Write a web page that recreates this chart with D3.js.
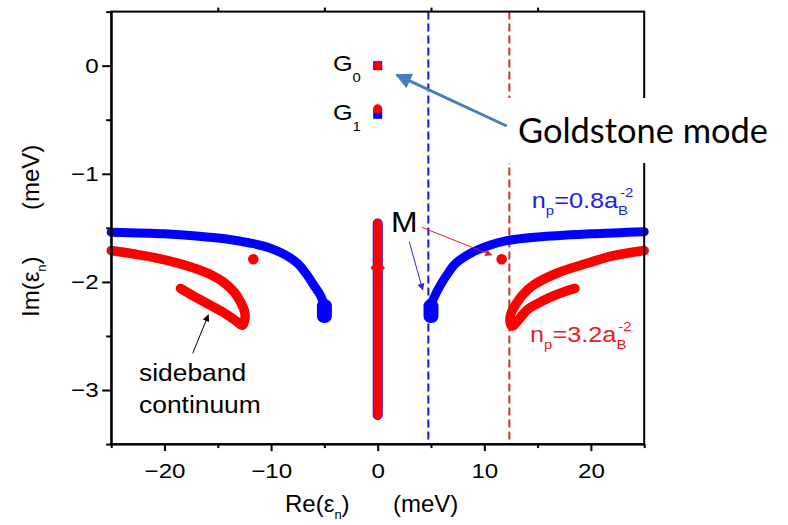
<!DOCTYPE html>
<meta charset="utf-8">
<style>
body { margin: 0; background: #fff; }
svg text { font-family: "Liberation Sans", Arial, sans-serif; fill: #000; }
.axis path, .axis line { stroke: #000; stroke-width: 2px; }
.axis text { font-size: 21px; }
.band { fill: none; stroke-linecap: round; stroke-linejoin: round; }
</style>
<svg width="788" height="525"></svg>
<script src="https://d3js.org/d3.v7.min.js"></script>
<script>

// eigenvalues [Re, Im] in meV
var blueLeft  = [[-25,-1.54],[-20,-1.555],[-17,-1.575],[-14,-1.605],[-12,-1.64],[-10,-1.69],[-8.5,-1.76],[-7.5,-1.83],[-6.6,-1.94],[-6,-2.03],[-5.4,-2.12],[-5.05,-2.2]];
var blueRight = [[5.05,-2.2],[5.4,-2.12],[6,-2.01],[6.6,-1.92],[7.3,-1.83],[8.8,-1.73],[10.5,-1.66],[12,-1.62],[15,-1.585],[20,-1.555],[25,-1.535]];
var blueTails = [[-5.0,-2.27],[5.0,-2.27]];
var redLeft  = [[-25,-1.71],[-23,-1.74],[-20.7,-1.78],[-17.6,-1.86],[-15.5,-1.94],[-14.5,-2.0],[-13.5,-2.09],[-12.9,-2.18],[-12.5,-2.27],[-12.45,-2.34],[-12.7,-2.4],[-13.3,-2.36],[-14.5,-2.28],[-16,-2.2],[-17.3,-2.13],[-18.5,-2.06]];
var redRight = [[25,-1.71],[22,-1.76],[19.9,-1.82],[16.8,-1.92],[14.6,-2.03],[13.6,-2.12],[13.0,-2.2],[12.55,-2.28],[12.4,-2.35],[12.6,-2.41],[13.3,-2.34],[14,-2.26],[15,-2.2],[16.2,-2.14],[17.5,-2.09],[18.5,-2.06]];
var centreBand = [[0,-1.46],[0,-3.23]];
var centreKnot = [[0,-1.87]];
var goldBlue = [[0,0],[0,-0.45]];
var goldRed  = [[0,0],[0,-0.40]];
var mPoints  = [[-11.67,-1.79],[11.63,-1.79]];
var thresholds = [{re: 4.75, c: "#1515f0"}, {re: 12.35, c: "#cc3030"}];
var xMajor = [-20,-10,0,10,20], xMinor = [-25,-15,-5,5,15,25], xTop = [-15,-5,5,15];
var yMajor = [0,-1,-2,-3], yMinor = [0.5,-0.5,-1.5,-2.5,-3.5];

var svg = d3.select("svg");
svg.append("rect").attr("width", 788).attr("height", 525).attr("fill", "#fff");

var x = d3.scaleLinear().domain([-25, 25]).range([111.2, 644.2]);
var y = d3.scaleLinear().domain([0.5, -3.5]).range([11.6, 444.1]);
var S = 1.15; // the text in the figure is a bit wide

var defs = svg.append("defs");
function marker(id, color, w, h) {
  defs.append("marker").attr("id", id)
      .attr("viewBox", "0 0 10 10").attr("refX", 9).attr("refY", 5)
      .attr("markerUnits", "userSpaceOnUse")
      .attr("markerWidth", w).attr("markerHeight", h)
      .attr("orient", "auto")
    .append("path").attr("d", "M0,0L10,5L0,10z").attr("fill", color);
}
marker("hGold", "#4a7ebb", 18, 16);
marker("hBlue", "#2b2bd0", 8, 7);
marker("hRed", "#dd2020", 9, 7);
marker("hBlack", "#000", 8, 7);

// dashed threshold lines
svg.append("g").selectAll("line").data(thresholds).enter().append("line")
    .attr("x1", function(d) { return x(d.re); }).attr("x2", function(d) { return x(d.re); })
    .attr("y1", y(0.5)).attr("y2", y(-3.5))
    .attr("stroke", function(d) { return d.c; })
    .attr("stroke-width", 2).attr("stroke-dasharray", "8,4");

var line = d3.line().x(function(d) { return x(d[0]); }).y(function(d) { return y(d[1]); })
    .curve(d3.curveCatmullRom.alpha(0.5));

// blue: n_p = 0.8
var blue = svg.append("g");
blue.selectAll("path").data([blueLeft, blueRight]).enter().append("path")
    .attr("class", "band").attr("d", line).attr("stroke", "#0000ff").attr("stroke-width", 9);
blue.selectAll("rect.tail").data(blueTails).enter().append("rect").attr("class", "tail")
    .attr("x", function(d) { return x(d[0]) - 7.5; }).attr("y", function(d) { return y(d[1]) - 12; })
    .attr("width", 15).attr("height", 24).attr("rx", 7).attr("fill", "#0000ff");
blue.append("path").datum(centreBand).attr("class", "band").attr("d", line)
    .attr("stroke", "#0000ff").attr("stroke-width", 10);
blue.selectAll("rect.g").data(goldBlue).enter().append("rect").attr("class", "g")
    .attr("x", function(d) { return x(d[0]) - 4.5; }).attr("y", function(d) { return y(d[1]) - 4.5; })
    .attr("width", 9).attr("height", 9).attr("fill", "#0000ff");

// red: n_p = 3.2
var red = svg.append("g");
red.selectAll("path").data([redLeft, redRight]).enter().append("path")
    .attr("class", "band").attr("d", line).attr("stroke", "#ff0000").attr("stroke-width", 9.5);
red.append("path").datum(centreBand).attr("class", "band").attr("d", line)
    .attr("stroke", "#ff0000").attr("stroke-width", 9);
red.selectAll("ellipse").data(centreKnot).enter().append("ellipse")
    .attr("cx", function(d) { return x(d[0]); }).attr("cy", function(d) { return y(d[1]); })
    .attr("rx", 7).attr("ry", 3.5).attr("fill", "#ff0000");
red.selectAll("circle.m").data(mPoints).enter().append("circle").attr("class", "m")
    .attr("cx", function(d) { return x(d[0]); }).attr("cy", function(d) { return y(d[1]); })
    .attr("r", 5.3).attr("fill", "#ff0000");
red.selectAll("circle.g").data(goldRed).enter().append("circle").attr("class", "g")
    .attr("cx", function(d) { return x(d[0]); }).attr("cy", function(d) { return y(d[1]); })
    .attr("r", 4.6).attr("fill", "#ff0000");

// axes
var gx = svg.append("g").attr("class", "axis").attr("transform", "translate(0," + y(-3.5) + ")")
    .call(d3.axisBottom(x).tickValues(xMajor).tickSize(7).tickSizeOuter(0).tickPadding(12).tickFormat(d3.format("d")));
gx.selectAll("text").attr("transform", "scale(" + S + ",1)");
svg.append("g").attr("class", "axis").attr("transform", "translate(0," + y(-3.5) + ")")
    .call(d3.axisBottom(x).tickValues(xMinor).tickSize(4).tickFormat(""))
    .select(".domain").remove();
svg.append("g").attr("class", "axis").attr("transform", "translate(0," + y(0.5) + ")")
    .call(d3.axisTop(x).tickValues(xTop).tickSize(4).tickFormat(""))
    .select(".domain").remove();
var gy = svg.append("g").attr("class", "axis").attr("transform", "translate(" + x(-25) + ",0)")
    .call(d3.axisLeft(y).tickValues(yMajor).tickSize(9).tickSizeOuter(0).tickPadding(2).tickFormat(d3.format("d")));
gy.selectAll("text").attr("transform", "scale(" + S + ",1)");
svg.append("g").attr("class", "axis").attr("transform", "translate(" + x(-25) + ",0)")
    .call(d3.axisLeft(y).tickValues(yMinor).tickSize(5).tickFormat(""))
    .select(".domain").remove();
svg.append("rect").attr("x", x(-25)).attr("y", y(0.5))
    .attr("width", x(25) - x(-25)).attr("height", y(-3.5) - y(0.5))
    .attr("fill", "none").attr("stroke", "#000").attr("stroke-width", 2);

// axis titles
var xt = svg.append("text").attr("x", 285).attr("y", 512).style("font-size", "24px");
xt.append("tspan").text("Re(\u03b5");
xt.append("tspan").text("n").style("font-size", "13px").attr("dy", 7);
xt.append("tspan").text(")").attr("dy", -7);
svg.append("text").attr("x", 393).attr("y", 512).style("font-size", "24px").text("(meV)");

var yt = svg.append("text").attr("transform", "translate(39,317) rotate(-90)").style("font-size", "24px");
yt.append("tspan").text("Im(\u03b5");
yt.append("tspan").text("n").style("font-size", "13px").attr("dy", 7);
yt.append("tspan").text(")").attr("dy", -7);
svg.append("text").attr("transform", "translate(39,210) rotate(-90)").style("font-size", "24px").text("(meV)");

// annotations, placed in data units
function label(re, im, size, sx) {
  return svg.append("text")
      .attr("transform", "translate(" + x(re) + "," + y(im) + ") scale(" + sx + ",1)")
      .style("font-size", size + "px");
}
function arrow(a, b, color, w, head) {
  svg.append("line").attr("x1", x(a[0])).attr("y1", y(a[1])).attr("x2", x(b[0])).attr("y2", y(b[1]))
      .attr("stroke", color).attr("stroke-width", w).attr("marker-end", "url(#" + head + ")");
}

var g0 = label(-4.2, -0.046, 22, S);
g0.append("tspan").text("G");
g0.append("tspan").text("0").style("font-size", "13px").attr("dy", 11);
var g1 = label(-4.2, -0.498, 22, S);
g1.append("tspan").text("G");
g1.append("tspan").text("1").style("font-size", "13px").attr("dy", 11);

label(1.25, -1.534, 29, 1.1).text("M");
arrow([2.96, -1.628], [4.22, -2.074], "#2b2bd0", 1, "hBlue");
arrow([4.13, -1.495], [10.69, -1.752], "#dd2020", 1, "hRed");

label(-22.39, -2.917, 24, 1.1).text("sideband");
label(-22.39, -3.208, 24, 1.1).text("continuum");
arrow([-17.35, -2.66], [-15.89, -2.305], "#000", 1, "hBlack");

function density(re, im, val, color) {
  var t = label(re, im, 22, S).style("fill", color);
  t.append("tspan").text("n");
  t.append("tspan").text("p").style("font-size", "13px").attr("dy", 7);
  t.append("tspan").text("=" + val + "a").attr("dy", -7);
  t.append("tspan").text("B").style("font-size", "13px").attr("dy", 7);
  t.append("tspan").text("-2").style("font-size", "13px").attr("dx", -7).attr("dy", -18);
}
density(14.45, -1.316, "0.8", "#2020e8");
density(14.29, -2.553, "3.2", "#e82020");

// Goldstone mode call-out
svg.append("rect").attr("x", x(12.13)).attr("y", y(-0.299))
    .attr("width", 788 - x(12.13)).attr("height", y(-0.9) - y(-0.299)).attr("fill", "#fff");
arrow([12.1, -0.558], [1.78, -0.086], "#4a7ebb", 3, "hGold");
svg.append("text").attr("x", x(13.16)).attr("y", y(-0.715))
    .attr("textLength", 250).attr("lengthAdjust", "spacingAndGlyphs")
    .style("font-family", "Lato, 'Open Sans', sans-serif").style("font-size", "34px")
    .text("Goldstone mode");

</script>
